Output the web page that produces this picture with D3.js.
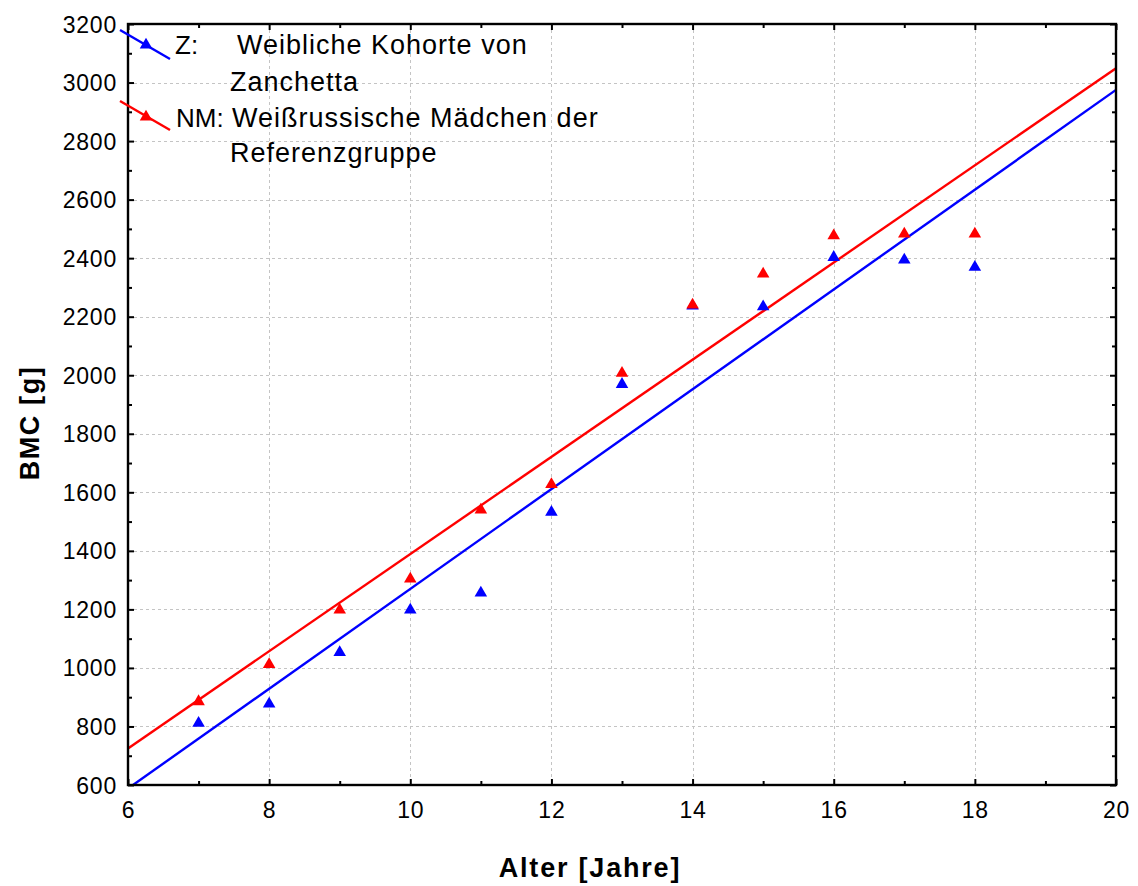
<!DOCTYPE html>
<html>
<head>
<meta charset="utf-8">
<script src="https://cdn.jsdelivr.net/npm/d3@7"></script>
<style>
  html, body { margin: 0; padding: 0; background: #fff; }
  svg { display: block; font-family: "Liberation Sans", Arial, sans-serif; }
</style>
</head>
<body>
<svg id="chart" width="1138" height="886"></svg>
<script>
// ---- Data ----
const ages = [7, 8, 9, 10, 11, 12, 13, 14, 15, 16, 17, 18];
const zValues  = [811, 877, 1053, 1198, 1256, 1532, 1969, 2237, 2234, 2403, 2394, 2369];
const nmValues = [885, 1012, 1198, 1304, 1540, 1627, 2007, 2240, 2346, 2477, 2483, 2483];
// fitted regression lines (endpoints)
const fitX = [6, 20];
const zFit  = [588, 2975];
const nmFit = [725, 3049];
const xTicks = [6, 8, 10, 12, 14, 16, 18, 20];
const yTicks = [600, 800, 1000, 1200, 1400, 1600, 1800, 2000, 2200, 2400, 2600, 2800, 3000, 3200];
const xMinor = [7, 9, 11, 13, 15, 17, 19];
const yMinor = [700, 900, 1100, 1300, 1500, 1700, 1900, 2100, 2300, 2500, 2700, 2900, 3100];
const legendLabels = [
  { key: "Z:", lines: ["Weibliche Kohorte von", "Zanchetta"], color: "#0000ff" },
  { key: "NM:", lines: ["Weißrussische Mädchen der", "Referenzgruppe"], color: "#ff0000" }
];
const xTitle = "Alter [Jahre]";
const yTitle = "BMC [g]";

// ---- Layout ----
const svg = d3.select("#chart");
const L = 128, R = 1116, T = 24, B = 785;
const x = d3.scaleLinear().domain([6, 20]).range([L, R]);
const y = d3.scaleLinear().domain([600, 3200]).range([B, T]);

svg.append("defs").append("clipPath").attr("id", "plotClip")
  .append("rect").attr("x", L).attr("y", T).attr("width", R - L).attr("height", B - T);

// grid
const grid = svg.append("g").attr("stroke", "#c4c4c4").attr("stroke-width", 1).attr("stroke-dasharray", "3,3");
grid.selectAll(".gx").data(xTicks.slice(1, -1)).join("line")
  .attr("x1", d => Math.round(x(d)) + 0.5).attr("x2", d => Math.round(x(d)) + 0.5)
  .attr("y1", T).attr("y2", B);
grid.selectAll(".gy").data(yTicks.slice(1, -1)).join("line")
  .attr("y1", d => Math.round(y(d)) + 0.5).attr("y2", d => Math.round(y(d)) + 0.5)
  .attr("x1", L).attr("x2", R);

// series
const series = [
  { fit: zFit, vals: zValues, color: "#0000ff" },
  { fit: nmFit, vals: nmValues, color: "#ff0000" }
];
const tri = d3.symbol().type(d3.symbolTriangle).size(68);
const lineGen = d3.line().x(d => x(d[0])).y(d => y(d[1]));
series.forEach(s => {
  svg.append("path")
    .attr("clip-path", "url(#plotClip)")
    .attr("d", lineGen(fitX.map((v, i) => [v, s.fit[i]])))
    .attr("fill", "none").attr("stroke", s.color).attr("stroke-width", 2.4);
});
series.forEach(s => {
  svg.append("g").selectAll("path").data(ages.map((a, i) => [a, s.vals[i]])).join("path")
    .attr("d", tri)
    .attr("transform", d => `translate(${x(d[0])},${y(d[1])})`)
    .attr("fill", s.color);
});

// axes (ticks inward)
function styleAxis(g) {
  g.select(".domain").remove();
  g.selectAll(".tick line").attr("stroke", "#000").attr("stroke-width", 2);
}
const fontTick = 23;
// bottom
const axB = svg.append("g").attr("transform", `translate(0,${B})`)
  .call(d3.axisBottom(x).tickValues(xTicks).tickSize(-6).tickPadding(0).tickFormat(d3.format("d")));
styleAxis(axB);
axB.selectAll(".tick text").attr("y", 33).attr("dy", 0).attr("font-size", fontTick)
  .attr("fill", "#000").attr("letter-spacing", "0.8px").attr("font-family", "Liberation Sans, Arial, sans-serif");
svg.append("g").attr("transform", `translate(0,${B})`)
  .call(d3.axisBottom(x).tickValues(xMinor).tickSize(-4).tickFormat(""))
  .call(styleAxis);
// top
svg.append("g").attr("transform", `translate(0,${T})`)
  .call(d3.axisTop(x).tickValues(xTicks).tickSize(-6).tickFormat("")).call(styleAxis);
svg.append("g").attr("transform", `translate(0,${T})`)
  .call(d3.axisTop(x).tickValues(xMinor).tickSize(-4).tickFormat("")).call(styleAxis);
// left
const axL = svg.append("g").attr("transform", `translate(${L},0)`)
  .call(d3.axisLeft(y).tickValues(yTicks).tickSize(-6).tickPadding(0).tickFormat(d3.format("d")));
styleAxis(axL);
axL.selectAll(".tick text").attr("x", -11).attr("dy", "0.35em").attr("font-size", fontTick)
  .attr("fill", "#000").attr("letter-spacing", "0.8px").attr("font-family", "Liberation Sans, Arial, sans-serif");
svg.append("g").attr("transform", `translate(${L},0)`)
  .call(d3.axisLeft(y).tickValues(yMinor).tickSize(-4).tickFormat("")).call(styleAxis);
// right
svg.append("g").attr("transform", `translate(${R},0)`)
  .call(d3.axisRight(y).tickValues(yTicks).tickSize(-6).tickFormat("")).call(styleAxis);
svg.append("g").attr("transform", `translate(${R},0)`)
  .call(d3.axisRight(y).tickValues(yMinor).tickSize(-4).tickFormat("")).call(styleAxis);

// frame
svg.append("rect").attr("x", L).attr("y", T).attr("width", R - L).attr("height", B - T)
  .attr("fill", "none").attr("stroke", "#000").attr("stroke-width", 2.4);

// axis titles
svg.append("text").attr("x", (L + R) / 2 - 32).attr("y", 877)
  .attr("text-anchor", "middle").attr("font-size", 27).attr("font-weight", "bold")
  .attr("letter-spacing", "1.8px").text(xTitle);
svg.append("text").attr("transform", `translate(39,${423}) rotate(-90)`)
  .attr("text-anchor", "middle").attr("font-size", 27).attr("font-weight", "bold")
  .attr("letter-spacing", "1.6px").text(yTitle);

// legend
const legRows = [
  { lx1: 120, ly1: 30, lx2: 170, ly2: 59, tx: 146, ty: 45, keyX: 175, textX: 237, base1: 54, base2: 91, text2X: 230 },
  { lx1: 120, ly1: 101, lx2: 170, ly2: 130, tx: 146, ty: 117, keyX: 176, textX: 232, base1: 127, base2: 162, text2X: 230 }
];
const legFont = 27, legSpacing = "1.0px";
legendLabels.forEach((lab, i) => {
  const r = legRows[i];
  const g = svg.append("g");
  g.append("line").attr("x1", r.lx1).attr("y1", r.ly1).attr("x2", r.lx2).attr("y2", r.ly2)
    .attr("stroke", lab.color).attr("stroke-width", 2.4);
  g.append("path").attr("d", tri).attr("transform", `translate(${r.tx},${r.ty})`).attr("fill", lab.color);
  g.append("text").attr("x", r.keyX).attr("y", r.base1).attr("font-size", 26).attr("letter-spacing", "0px").text(lab.key);
  g.append("text").attr("x", r.textX).attr("y", r.base1).attr("font-size", legFont).attr("letter-spacing", legSpacing).text(lab.lines[0]);
  g.append("text").attr("x", r.text2X).attr("y", r.base2).attr("font-size", legFont).attr("letter-spacing", legSpacing).text(lab.lines[1]);
});
</script>
</body>
</html>
